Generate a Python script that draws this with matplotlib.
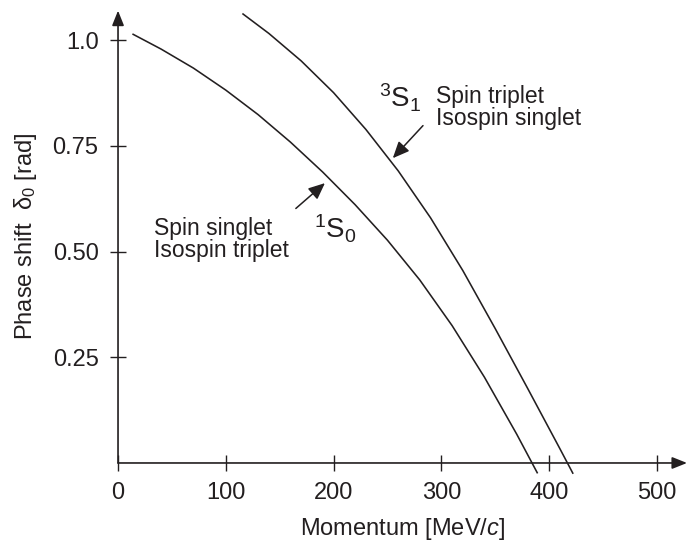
import matplotlib
matplotlib.use("Agg")
import matplotlib.pyplot as plt

plt.rcParams['font.family'] = ['Liberation Sans', 'DejaVu Sans']
plt.rcParams['mathtext.fontset'] = 'custom'
plt.rcParams['mathtext.rm'] = 'Liberation Sans'
plt.rcParams['mathtext.it'] = 'Liberation Sans:italic'

# phase shifts
p_1s0 = [14, 40, 70, 100, 130, 160, 190, 220, 250, 280, 310, 340, 370, 389]
d_1s0 = [1.014, 0.979, 0.934, 0.882, 0.824, 0.759, 0.688, 0.611, 0.527, 0.433, 0.325, 0.203, 0.068, -0.023]

p_3s1 = [116, 140, 170, 200, 230, 260, 290, 320, 350, 380, 410, 422]
d_3s1 = [1.062, 1.016, 0.951, 0.876, 0.789, 0.691, 0.580, 0.455, 0.318, 0.177, 0.034, -0.024]

xticks = [0, 100, 200, 300, 400, 500]
yticks = [0.25, 0.50, 0.75, 1.0]
ylabels = ['0.25', '0.50', '0.75', '1.0']

ink = '#231f20'

fig = plt.figure(figsize=(6.87, 5.45), dpi=100)
ax = fig.add_axes([0.1718, 0.1505, 0.8282, 0.83])
ax.set_xlim(0, 528)
ax.set_ylim(0, 1.07)

for s in ax.spines.values():
    s.set_visible(False)

# axes with arrow heads
head = '-|>,head_length=0.45,head_width=0.18'
ax.annotate('', xy=(528, 0), xytext=(0, 0),
            arrowprops=dict(arrowstyle=head, color=ink, lw=1.2, mutation_scale=20,
                            shrinkA=0, shrinkB=0),
            annotation_clip=False)
ax.annotate('', xy=(0, 1.07), xytext=(0, 0),
            arrowprops=dict(arrowstyle=head, color=ink, lw=1.2, mutation_scale=20,
                            shrinkA=0, shrinkB=0),
            annotation_clip=False)

ax.plot(p_1s0, d_1s0, color=ink, lw=1.15, clip_on=False)
ax.plot(p_3s1, d_3s1, color=ink, lw=1.15, clip_on=False)

ax.set_xticks(xticks)
ax.set_yticks(yticks)
ax.set_yticklabels(ylabels)
ax.tick_params(direction='inout', length=12, width=1.0, color=ink,
               labelsize=17, labelcolor=ink)
ax.tick_params(axis='x', pad=8)
ax.tick_params(axis='y', pad=8)

ax.set_xlabel('Momentum [MeV/$\\it{c}$]', fontsize=17, color=ink, labelpad=8)
ax.set_ylabel('Phase shift  δ$_0$ [rad]', fontsize=17, color=ink, labelpad=10)

# annotations
arr = '-|>,head_length=0.5,head_width=0.22'
ax.text(295, 0.895, 'Spin triplet\nIsospin singlet', fontsize=16.5, color=ink,
        va='top', ha='left', linespacing=0.95)
ax.text(242, 0.840, '$^3$S$_1$', fontsize=20, color=ink, va='baseline', ha='left')
ax.annotate('', xy=(255, 0.721), xytext=(283, 0.798),
            arrowprops=dict(arrowstyle=arr, color=ink, lw=1.1, mutation_scale=20,
                            shrinkA=0, shrinkB=0))

ax.text(33, 0.583, 'Spin singlet\nIsospin triplet', fontsize=16.5, color=ink,
        va='top', ha='left', linespacing=0.95)
ax.text(182, 0.531, '$^1$S$_0$', fontsize=20, color=ink, va='baseline', ha='left')
ax.annotate('', xy=(192, 0.662), xytext=(165, 0.602),
            arrowprops=dict(arrowstyle=arr, color=ink, lw=1.1, mutation_scale=20,
                            shrinkA=0, shrinkB=0))

fig.savefig('out.png', dpi=100)
